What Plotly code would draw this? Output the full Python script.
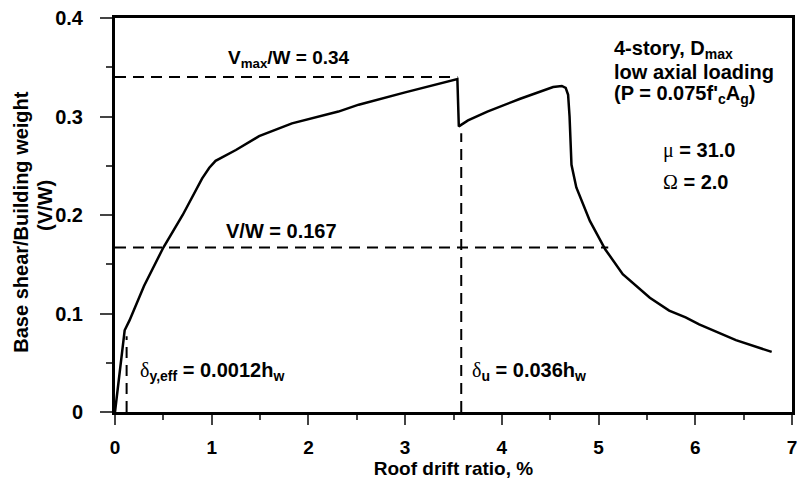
import plotly.graph_objects as go

# Pushover curve: roof drift ratio (%) vs base shear / building weight
drift = [0.0, 0.10, 0.15, 0.30, 0.50, 0.70, 0.90, 0.975, 1.04, 1.15, 1.25, 1.49, 1.83,
         2.31, 2.52, 3.00, 3.54, 3.555, 3.65, 3.85, 4.19, 4.53, 4.62, 4.66, 4.685,
         4.70, 4.71, 4.72, 4.77, 4.91, 5.07, 5.25, 5.53, 5.73, 5.90, 6.04, 6.42, 6.79]
vw = [0.0, 0.083, 0.093, 0.128, 0.167, 0.200, 0.237, 0.248, 0.255, 0.261, 0.266, 0.280, 0.293,
      0.305, 0.312, 0.3245, 0.338, 0.290, 0.296, 0.305, 0.318, 0.330, 0.331, 0.329, 0.322,
      0.300, 0.270, 0.251, 0.228, 0.194, 0.165, 0.140, 0.116, 0.103, 0.096, 0.089, 0.073, 0.061]

# Reference lines
vmax_w = 0.34
vmax_drift = 3.54
v_design = 0.167
v_design_end = 5.10
dy_eff = 0.12
dy_eff_top = 0.077
du = 3.58
du_top = 0.283

x_ticks = [0, 1, 2, 3, 4, 5, 6, 7]
y_ticks = [0, 0.1, 0.2, 0.3, 0.4]
y_ticklabels = ["0", "0.1", "0.2", "0.3", "0.4"]

FONT = "Liberation Sans, Arial, sans-serif"
SERIF = "Liberation Serif"
dash = "11px,7px"

fig = go.Figure()
fig.add_trace(go.Scatter(x=[0, vmax_drift], y=[vmax_w, vmax_w], mode="lines",
                         line=dict(color="black", width=2, dash=dash), hoverinfo="skip"))
fig.add_trace(go.Scatter(x=[0, v_design_end], y=[v_design, v_design], mode="lines",
                         line=dict(color="black", width=2, dash=dash), hoverinfo="skip"))
fig.add_trace(go.Scatter(x=[dy_eff, dy_eff], y=[0, dy_eff_top], mode="lines",
                         line=dict(color="black", width=2, dash=dash), hoverinfo="skip"))
fig.add_trace(go.Scatter(x=[du, du], y=[0, du_top], mode="lines",
                         line=dict(color="black", width=2, dash=dash), hoverinfo="skip"))
fig.add_trace(go.Scatter(x=drift, y=vw, mode="lines",
                         line=dict(color="black", width=2.5), hoverinfo="skip"))

def ann(x, y, text, size=20):
    fig.add_annotation(x=x, y=y, xref="x", yref="y", text=text, showarrow=False,
                       xanchor="left", yanchor="middle",
                       font=dict(family=FONT, size=size, color="black", weight="bold"))

def greek(ch):
    return f"<span style='font-family:{SERIF};font-weight:normal'>{ch}</span>"

ann(1.15, 0.358, "V<sub>max</sub>/W = 0.34", size=19)
ann(1.13, 0.184, "V/W = 0.167")
ann(0.236, 0.041, greek("δ") + "<sub>y,eff</sub> = 0.0012h<sub>w</sub>")
ann(3.67, 0.041, greek("δ") + "<sub>u</sub> = 0.036h<sub>w</sub>")
ann(5.14, 0.368, "4-story, D<sub>max</sub>")
ann(5.14, 0.3455, "low axial loading")
ann(5.14, 0.322, "(P = 0.075f'<sub>c</sub>A<sub>g</sub>)")
ann(5.645, 0.265, greek("μ") + " = 31.0")
ann(5.645, 0.233, greek("Ω") + " = 2.0")

# Y-axis title (two lines, placed in paper coordinates)
for text, xs, yc in [("Base shear/Building weight", -94, 0.483), ("(V/W)", -70, 0.523)]:
    fig.add_annotation(x=0, y=yc, xref="paper", yref="paper", xshift=xs,
                       text=text, showarrow=False, textangle=-90,
                       xanchor="center", yanchor="middle",
                       font=dict(family=FONT, size=20, color="black", weight="bold"))

fig.update_layout(
    width=804, height=486,
    margin=dict(l=115, r=7, t=16, b=74),
    paper_bgcolor="white", plot_bgcolor="white",
    showlegend=False,
    font=dict(family=FONT, color="black"),
)
fig.update_xaxes(
    range=[0, 7], tickvals=x_ticks, ticktext=[str(v) for v in x_ticks],
    showgrid=False, zeroline=False,
    showline=True, linecolor="black", linewidth=3, mirror=True,
    ticks="outside", ticklen=10, tickwidth=1.5, tickcolor="#444",
    minor=dict(dtick=0.5, ticks="outside", ticklen=5, tickwidth=1.5, tickcolor="#444"),
    tickfont=dict(family=FONT, size=19, weight="bold"),
    ticklabelstandoff=6,
    title=dict(text="Roof drift ratio, %", font=dict(family=FONT, size=19, weight="bold"), standoff=4),
)
fig.update_yaxes(
    range=[0, 0.4], tickvals=y_ticks, ticktext=y_ticklabels,
    showgrid=False, zeroline=False,
    showline=True, linecolor="black", linewidth=3, mirror=True,
    ticks="outside", ticklen=12, tickwidth=1.5, tickcolor="#444",
    minor=dict(dtick=0.05, ticks="outside", ticklen=6, tickwidth=1.5, tickcolor="#444"),
    tickfont=dict(family=FONT, size=20, weight="bold"),
    ticklabelstandoff=13,
)

fig.write_html("out.html")
